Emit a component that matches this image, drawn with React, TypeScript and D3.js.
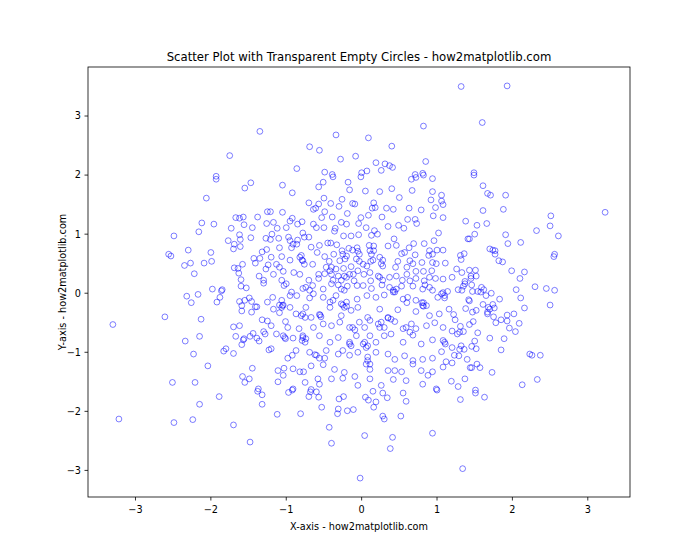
import React from "react";
import * as d3 from "d3";

const title = "Scatter Plot with Transparent Empty Circles - how2matplotlib.com";
const xLabel = "X-axis - how2matplotlib.com";
const yLabel = "Y-axis - how2matplotlib.com";
const xTicks = [-3, -2, -1, 0, 1, 2, 3];
const yTicks = [-3, -2, -1, 0, 1, 2, 3];
const xDomain = [-3.63, 3.56];
const yDomain = [-3.45, 3.83];

// points [x, y]
const points: [number, number][] = [
  [-1.35, 2.74], [-1.75, 2.33], [-1.93, 1.98], [-1.93, 1.93],
  [0.82, 2.83], [-0.34, 2.68], [0.09, 2.63], [-0.69, 2.48], [-0.56, 2.42], [0.4, 2.49], [-0.28, 2.27],
  [-0.08, 2.32], [-0.86, 2.11], [-0.49, 2.05], [0.19, 2.21], [0.31, 2.19], [0.37, 2.16], [0.41, 2.13],
  [0.26, 2.08], [0.07, 2.07], [0.0, 2.04], [0.85, 2.23], [0.81, 2.03], [0.71, 2.01], [-0.39, 2.01],
  [1.32, 3.5], [1.93, 3.51], [1.6, 2.89], [1.49, 2.04],
  [-1.47, 1.87], [-1.55, 1.78], [-2.06, 1.61], [-1.25, 1.38], [-1.67, 1.28], [-1.62, 1.27], [-1.57, 1.29],
  [-1.38, 1.29], [-2.12, 1.19], [-1.96, 1.17], [-1.56, 1.16], [-1.26, 1.18], [-1.73, 1.1], [-1.45, 1.11],
  [-2.16, 1.04], [-2.49, 0.97], [-1.62, 0.99], [-1.47, 0.94], [-1.27, 0.93], [-1.77, 0.89], [-1.61, 0.91],
  [-1.69, 0.83], [-1.61, 0.79], [-1.7, 0.75], [-2.3, 0.73], [-2.0, 0.69], [-2.56, 0.66], [-2.53, 0.63],
  [-1.32, 0.7], [-1.26, 0.74], [-1.43, 0.59], [-1.35, 0.59], [-1.41, 0.51], [-2.27, 0.51], [-2.35, 0.47],
  [-2.09, 0.51], [-1.99, 0.54], [-1.58, 0.49], [-1.69, 0.43], [-1.64, 0.42], [-1.24, 0.48], [-1.27, 0.41],
  [-2.22, 0.33], [-1.63, 0.34], [-1.36, 0.29], [-1.6, 0.23], [-1.3, 0.22],
  [-0.51, 1.88], [-0.38, 1.97], [-0.18, 1.88], [-0.01, 1.97], [-1.05, 1.83], [-0.92, 1.7], [-0.57, 1.8],
  [-0.16, 1.75], [0.05, 1.73], [0.24, 1.72], [0.4, 1.77], [0.66, 1.93], [0.72, 1.96], [0.82, 2.0],
  [0.94, 1.94], [0.67, 1.74], [0.94, 1.72], [1.06, 1.66], [-0.5, 1.61], [-0.26, 1.59], [-0.12, 1.52],
  [-0.09, 1.51], [0.16, 1.53], [0.14, 1.44], [0.18, 1.45], [0.5, 1.62], [0.33, 1.44], [0.42, 1.42],
  [0.63, 1.44], [0.79, 1.41], [0.92, 1.58], [0.98, 1.45], [1.06, 1.56], [1.08, 1.5], [-0.7, 1.53],
  [-0.64, 1.42], [-0.61, 1.44], [-0.57, 1.51], [-0.41, 1.52], [-0.3, 1.47], [-0.19, 1.35], [-1.05, 1.37],
  [-1.17, 1.2], [-1.21, 1.38], [-0.92, 1.27], [-0.95, 1.22], [-0.79, 1.21], [-0.85, 1.17], [-0.49, 1.38],
  [-0.53, 1.28], [-0.39, 1.29], [-0.5, 1.11], [-0.27, 1.2], [-0.2, 1.17], [-0.04, 1.18], [-0.01, 1.28],
  [0.09, 1.32], [0.27, 1.29], [0.35, 1.13], [0.49, 1.15], [0.61, 1.25], [0.71, 1.25], [0.73, 1.18],
  [0.95, 1.31], [1.08, 1.28], [0.06, 1.11], [0.17, 1.06], [0.21, 1.0], [0.13, 0.98], [-0.04, 0.99],
  [-0.14, 0.97], [-0.24, 0.97], [-0.35, 1.1], [-0.36, 1.05], [-1.12, 1.1], [-1.0, 1.11], [-0.97, 0.95],
  [-1.1, 0.93], [-0.76, 0.95], [-0.7, 0.95], [-0.78, 1.02], [-0.85, 0.9], [-0.86, 0.83], [-0.93, 0.77],
  [-1.09, 0.77], [-1.19, 1.0], [-1.21, 0.91], [-1.2, 0.61], [-1.06, 0.62], [-0.95, 0.56], [-0.8, 0.64],
  [-0.79, 0.56], [-0.67, 0.78], [-0.56, 0.81], [-0.45, 0.85], [-0.41, 0.85], [-0.33, 0.82], [-0.59, 0.69],
  [-0.49, 0.62], [-0.37, 0.66], [-0.26, 0.72], [-0.17, 0.76], [-0.12, 0.73], [-0.06, 0.77], [-0.05, 0.71],
  [-0.03, 0.66], [-0.22, 0.58], [-0.29, 0.55], [-0.43, 0.54], [-0.4, 0.44], [-0.34, 0.41], [-0.24, 0.42],
  [-0.14, 0.45], [0.1, 0.81], [0.16, 0.8], [0.16, 0.72], [0.15, 0.56], [0.12, 0.54], [0.26, 0.5],
  [0.28, 0.46], [0.35, 0.8], [0.43, 0.92], [0.46, 0.81], [0.56, 1.1], [0.57, 0.69], [0.53, 0.67],
  [0.69, 0.84], [0.63, 0.77], [0.71, 0.65], [0.83, 0.84], [0.89, 0.64], [0.96, 0.89], [1.02, 1.02],
  [1.08, 0.73], [1.0, 0.73], [0.94, 0.52], [0.99, 0.5], [1.11, 0.51], [0.8, 0.52], [0.48, 0.54],
  [0.45, 0.44], [0.6, 0.44], [0.6, 0.32], [0.72, 0.37], [0.82, 0.37], [0.93, 0.38], [0.98, 0.25],
  [1.08, 0.24], [0.9, 0.27], [0.72, 0.25], [0.46, 0.29], [0.37, 0.27], [0.22, 0.29], [0.11, 0.35],
  [0.03, 0.32], [-0.05, 0.38], [0.02, 0.49], [0.07, 0.46], [-0.16, 0.32], [-0.23, 0.29], [-0.31, 0.29],
  [-0.4, 0.32], [-0.49, 0.33], [-0.57, 0.32], [-0.65, 0.49], [-0.76, 0.49], [-0.9, 0.35], [-0.82, 0.32],
  [-1.04, 0.37], [-1.17, 0.32], [-1.06, 0.22], [-0.7, 0.22], [-0.57, 0.25], [-0.38, 0.22], [-0.27, 0.22],
  [-0.1, 0.21], [0.12, 0.21], [0.24, 0.27], [0.28, 0.22], [0.54, 0.22], [0.64, 0.21], [0.83, 0.21],
  [-0.25, 0.66], [-0.2, 0.63], [0.11, 0.72], [0.13, 0.66], [-0.82, 0.61], [-0.78, 0.55], [-0.47, 0.44],
  [-0.42, 0.38], [-0.07, 0.58], [-0.03, 0.54], [0.24, 0.61], [0.28, 0.56], [0.64, 0.55], [0.68, 0.5],
  [-0.95, 0.89], [-0.91, 0.83], [-0.64, 1.17], [-0.6, 1.11], [-0.2, 0.27], [-0.11, 0.32], [0.9, 0.72],
  [0.94, 0.66], [-1.13, 0.49], [-1.09, 0.44],
  [1.49, 2.0], [1.61, 1.82], [1.67, 1.69], [1.71, 1.66], [1.91, 1.66], [1.61, 1.4], [1.88, 1.42],
  [3.23, 1.37], [2.51, 1.31], [2.5, 1.14], [1.38, 1.22], [1.53, 1.15], [1.66, 1.18], [1.5, 1.0],
  [1.41, 0.92], [1.43, 0.92], [1.91, 0.99], [2.32, 1.06], [2.61, 0.97], [1.94, 0.84], [2.11, 0.86],
  [1.7, 0.75], [1.74, 0.73], [1.77, 0.72], [1.77, 0.66], [1.36, 0.67], [1.31, 0.64], [1.32, 0.57],
  [2.56, 0.66], [2.55, 0.62], [1.82, 0.55], [1.87, 0.53], [1.99, 0.38], [2.16, 0.36], [2.1, 0.25],
  [1.26, 0.41], [1.33, 0.35], [1.43, 0.39], [1.51, 0.39], [1.45, 0.29], [1.52, 0.29], [1.45, 0.25],
  [1.2, 0.27], [1.37, 0.2],
  [-3.3, -0.53], [-2.61, -0.4], [-2.32, -0.05], [-2.17, -0.02], [-2.26, -0.16], [-1.98, 0.07], [-1.86, 0.04],
  [-1.85, 0.06], [-1.88, -0.07], [-1.92, -0.15], [-1.6, 0.12], [-1.53, 0.09], [-1.3, 0.17], [-1.62, -0.14],
  [-1.55, -0.12], [-1.49, -0.08], [-1.46, -0.14], [-1.59, -0.21], [-1.41, -0.23], [-1.39, -0.23], [-1.59, -0.3],
  [-1.46, -0.32], [-1.25, -0.15], [-1.32, -0.45], [-1.25, -0.47], [-2.13, -0.44], [-1.7, -0.57], [-1.62, -0.55],
  [-1.67, -0.73], [-1.57, -0.79], [-1.56, -0.77], [-1.44, -0.68], [-1.48, -0.73], [-1.39, -0.76], [-1.36, -0.81],
  [-1.3, -0.65], [-1.28, -0.69], [-1.59, -0.87], [-2.15, -0.73], [-2.34, -0.81], [-1.8, -0.94], [-1.83, -0.98],
  [-1.7, -1.02], [-2.23, -1.03], [-1.23, -0.96], [-2.04, -1.23], [-1.45, -1.27], [-1.58, -1.41], [-1.49, -1.45],
  [-1.55, -1.51], [-2.51, -1.51], [-2.21, -1.51], [-1.37, -1.62],
  [2.05, 0.06], [2.3, 0.11], [2.45, 0.08], [2.56, 0.05], [2.11, -0.08], [2.5, -0.2], [2.16, -0.25],
  [1.83, -0.1], [1.72, 0.0], [1.62, 0.06], [1.59, 0.1], [1.28, 0.06], [1.35, 0.12], [1.37, 0.16],
  [1.46, 0.14], [1.33, 0.05], [1.47, 0.03], [1.54, 0.03], [1.58, 0.02], [1.65, -0.04], [1.42, -0.11],
  [1.43, -0.13], [1.61, -0.19], [1.38, -0.26], [1.47, -0.32], [1.52, -0.29], [1.68, -0.24], [1.7, -0.27],
  [1.74, -0.19], [1.76, -0.25], [1.67, -0.32], [1.67, -0.35], [1.75, -0.4], [1.93, -0.37], [2.02, -0.35],
  [1.85, -0.45], [1.93, -0.47], [1.78, -0.5], [2.09, -0.51], [1.22, -0.36], [1.24, -0.45], [1.48, -0.48],
  [1.43, -0.53], [1.96, -0.59], [2.04, -0.65], [1.31, -0.56], [1.2, -0.64], [1.27, -0.69], [1.3, -0.66],
  [1.35, -0.65], [1.54, -0.67], [1.7, -0.76], [1.89, -0.77], [1.5, -0.81], [1.46, -0.9], [1.32, -0.89],
  [1.2, -0.92], [1.3, -0.95], [1.36, -0.95], [1.52, -0.94], [1.85, -0.96], [2.23, -1.03], [2.26, -1.05],
  [2.37, -1.05], [1.23, -1.05], [1.29, -1.06], [1.2, -1.18], [1.4, -1.12], [1.53, -1.2], [1.44, -1.26],
  [1.46, -1.26], [1.57, -1.26], [1.73, -1.34], [1.37, -1.45], [2.33, -1.46], [2.13, -1.55], [1.28, -1.58],
  [1.19, -1.49], [1.51, -1.64],
  [-3.22, -2.13], [-2.49, -2.19], [-2.24, -2.14], [-2.15, -1.88], [-1.89, -1.75], [-1.7, -2.23], [-1.48, -2.52],
  [-1.38, -1.66], [-1.32, -1.72], [-1.32, -1.88],
  [-0.97, -1.68], [-0.92, -1.64], [-0.7, -1.75], [-0.68, -1.67], [-0.6, -1.67], [-0.57, -1.76], [-0.53, -1.93],
  [-1.12, -2.05], [-0.81, -2.04], [-0.3, -1.79], [-0.24, -1.75], [-0.31, -1.96], [-0.32, -2.04], [-0.19, -1.99],
  [-0.11, -1.97], [-0.43, -2.27], [-0.4, -2.54], [0.05, -1.76], [0.09, -1.81], [0.15, -1.66], [0.19, -1.84],
  [0.16, -1.93], [0.28, -1.69], [0.34, -1.77], [0.28, -2.08], [0.3, -2.13], [0.04, -2.41], [0.41, -2.44],
  [0.38, -2.63], [-0.02, -3.13], [0.55, -1.69], [0.59, -1.83], [0.52, -2.08], [0.94, -2.37], [1.0, -1.64],
  [1.31, -1.8], [1.51, -1.69], [1.63, -1.76], [1.34, -2.97],
  [-1.03, 0.13], [-1.0, 0.16], [-0.78, 0.08], [-0.74, 0.1], [-0.65, 0.13], [-0.51, 0.07], [-0.4, 0.16],
  [-0.31, 0.14], [-0.19, 0.12], [-0.06, 0.13], [0.02, 0.13], [0.13, 0.08], [0.27, 0.14], [0.37, 0.1],
  [0.44, 0.02], [0.53, 0.12], [0.68, 0.12], [0.84, 0.14], [0.94, 0.05], [1.08, 0.01], [1.14, 0.03],
  [-1.18, -0.07], [-1.06, -0.12], [-1.05, -0.21], [-0.86, -0.04], [-0.69, -0.08], [-0.51, -0.07], [-0.34, -0.04],
  [-0.25, -0.2], [-0.2, -0.22], [-0.06, -0.1], [0.07, -0.04], [0.19, -0.07], [0.3, -0.03], [0.42, 0.02],
  [0.55, -0.1], [0.61, -0.07], [0.72, -0.12], [0.82, -0.16], [0.86, -0.21], [1.01, -0.07], [1.1, -0.04],
  [-1.17, -0.27], [-1.09, -0.33], [-0.95, -0.24], [-0.87, -0.35], [-0.74, -0.24], [-0.67, -0.41], [-0.55, -0.37],
  [-0.42, -0.24], [-0.27, -0.38], [-0.14, -0.29], [-0.05, -0.24], [0.08, -0.41], [0.24, -0.27], [0.35, -0.42],
  [0.48, -0.28], [0.6, -0.16], [0.72, -0.31], [0.81, -0.21], [0.9, -0.38], [1.03, -0.35], [1.16, -0.27],
  [-1.2, -0.55], [-1.01, -0.48], [-0.98, -0.58], [-0.83, -0.6], [-0.64, -0.58], [-0.51, -0.52], [-0.4, -0.55],
  [-0.29, -0.49], [-0.16, -0.58], [-0.03, -0.49], [0.04, -0.58], [0.11, -0.46], [0.22, -0.52], [0.3, -0.58],
  [0.44, -0.48], [0.55, -0.6], [0.66, -0.52], [0.72, -0.6], [0.86, -0.55], [0.97, -0.5], [1.08, -0.58],
  [-1.13, -0.69], [-1.02, -0.75], [-0.91, -0.76], [-0.78, -0.72], [-0.75, -0.83], [-0.56, -0.72], [-0.42, -0.83],
  [-0.31, -0.75], [-0.16, -0.86], [-0.07, -0.72], [0.02, -0.86], [0.11, -0.72], [0.19, -0.83], [0.3, -0.72],
  [0.39, -0.69], [0.55, -0.83], [0.68, -0.71], [0.79, -0.86], [0.94, -0.79], [1.1, -0.83],
  [-1.2, -0.94], [-0.87, -0.97], [-0.92, -1.05], [-0.98, -1.1], [-0.69, -1.0], [-0.6, -1.05], [-0.49, -1.1],
  [-0.47, -0.97], [-0.31, -1.03], [-0.25, -0.97], [-0.16, -1.05], [-0.05, -1.0], [0.08, -1.08], [0.19, -1.0],
  [0.35, -1.03], [0.44, -1.12], [0.57, -1.06], [0.68, -1.14], [0.81, -1.12], [0.94, -1.1], [1.06, -0.99],
  [1.12, -1.16],
  [-1.11, -1.31], [-1.03, -1.27], [-0.91, -1.28], [-0.82, -1.33], [-0.77, -1.33], [-0.67, -1.23], [-0.51, -1.21],
  [-0.36, -1.29], [-0.23, -1.34], [-0.09, -1.41], [0.06, -1.2], [0.11, -1.29], [0.35, -1.31], [0.44, -1.31],
  [0.53, -1.33], [0.68, -1.2], [0.79, -1.31], [0.94, -1.33], [1.08, -1.25],
  [-1.11, -1.5], [-1.04, -1.39], [-0.75, -1.51], [-0.58, -1.45], [-0.56, -1.54], [-0.4, -1.45], [-0.25, -1.44],
  [-0.05, -1.56], [0.11, -1.45], [0.26, -1.56], [0.42, -1.46], [0.59, -1.48], [0.81, -1.54], [0.88, -1.39],
  [0.99, -1.62], [-0.91, -1.62], [-0.67, -1.63],
  [-1.09, -0.2], [-1.06, -0.24], [-1.04, -0.2], [-0.8, -0.38], [-0.78, -0.35], [-0.75, -0.41], [-0.56, -0.36],
  [-0.54, -0.4], [-0.27, -0.18], [-0.23, -0.24], [-0.2, -0.15], [0.35, -0.41], [0.39, -0.44], [0.8, -0.16],
  [0.82, -0.22], [1.06, -0.01], [1.1, -0.08], [-1.04, -0.72], [-1.01, -0.77], [-0.78, -0.75], [-0.79, -0.8],
  [-0.74, -0.77], [-0.16, -0.83], [-0.14, -0.89], [0.04, -0.83], [0.08, -0.89], [0.06, -0.92], [0.26, -0.49],
  [0.24, -0.58], [1.08, -0.8], [1.11, -0.86], [0.08, -1.14], [0.11, -1.2], [-0.62, -1.04], [-0.56, -1.1],
  [-0.95, -0.04], [-0.93, 0.02], [-0.69, 0.05], [-0.64, -0.01], [0.42, 0.05], [0.46, 0.07], [0.81, 0.07],
  [0.9, 0.1], [-0.27, 0.07], [-0.23, 0.05], [-0.12, -0.58], [-0.09, -0.62], [0.59, -0.58], [0.64, -0.66],
  [-0.42, -0.15], [-0.38, -0.12],
];

const W = 700;
const H = 560;
const M = { left: 88, right: 630, top: 67, bottom: 497 };
const FONT = "DejaVu Sans, sans-serif";

export default function App() {
  const x = d3.scaleLinear().domain(xDomain).range([M.left, M.right]);
  const y = d3.scaleLinear().domain(yDomain).range([M.bottom, M.top]);
  const tickLen = 3.5;
  return (
    <svg
      width={W}
      height={H}
      style={{ position: "absolute", left: 0, top: 0, background: "#fff" }}
      fontFamily={FONT}
    >
      <rect x={0} y={0} width={W} height={H} fill="#fff" />
      <g>
        {points.map(([px, py], i) => (
          <circle
            key={i}
            cx={x(px)}
            cy={y(py)}
            r={2.9}
            fill="none"
            stroke="blue"
            strokeOpacity={0.5}
            strokeWidth={1}
          />
        ))}
      </g>
      <rect
        x={M.left}
        y={M.top}
        width={M.right - M.left}
        height={M.bottom - M.top}
        fill="none"
        stroke="#000"
        strokeWidth={0.8}
      />
      {xTicks.map((t) => (
        <g key={"x" + t}>
          <line x1={x(t)} x2={x(t)} y1={M.bottom} y2={M.bottom + tickLen} stroke="#000" strokeWidth={0.8} />
          <text x={x(t)} y={M.bottom + 16} textAnchor="middle" fontSize={9.7} fill="#000">
            {t < 0 ? "\u2212" + Math.abs(t) : String(t)}
          </text>
        </g>
      ))}
      {yTicks.map((t) => (
        <g key={"y" + t}>
          <line x1={M.left - tickLen} x2={M.left} y1={y(t)} y2={y(t)} stroke="#000" strokeWidth={0.8} />
          <text x={M.left - 7} y={y(t)} dy="0.35em" textAnchor="end" fontSize={9.7} fill="#000">
            {t < 0 ? "\u2212" + Math.abs(t) : String(t)}
          </text>
        </g>
      ))}
      <text x={(M.left + M.right) / 2} y={M.top - 6} textAnchor="middle" fontSize={11.7} fill="#000">
        {title}
      </text>
      <text x={(M.left + M.right) / 2} y={530} textAnchor="middle" fontSize={9.7} fill="#000">
        {xLabel}
      </text>
      <text
        transform={`translate(${66}, ${(M.top + M.bottom) / 2}) rotate(-90)`}
        textAnchor="middle"
        fontSize={9.7}
        fill="#000"
      >
        {yLabel}
      </text>
    </svg>
  );
}
